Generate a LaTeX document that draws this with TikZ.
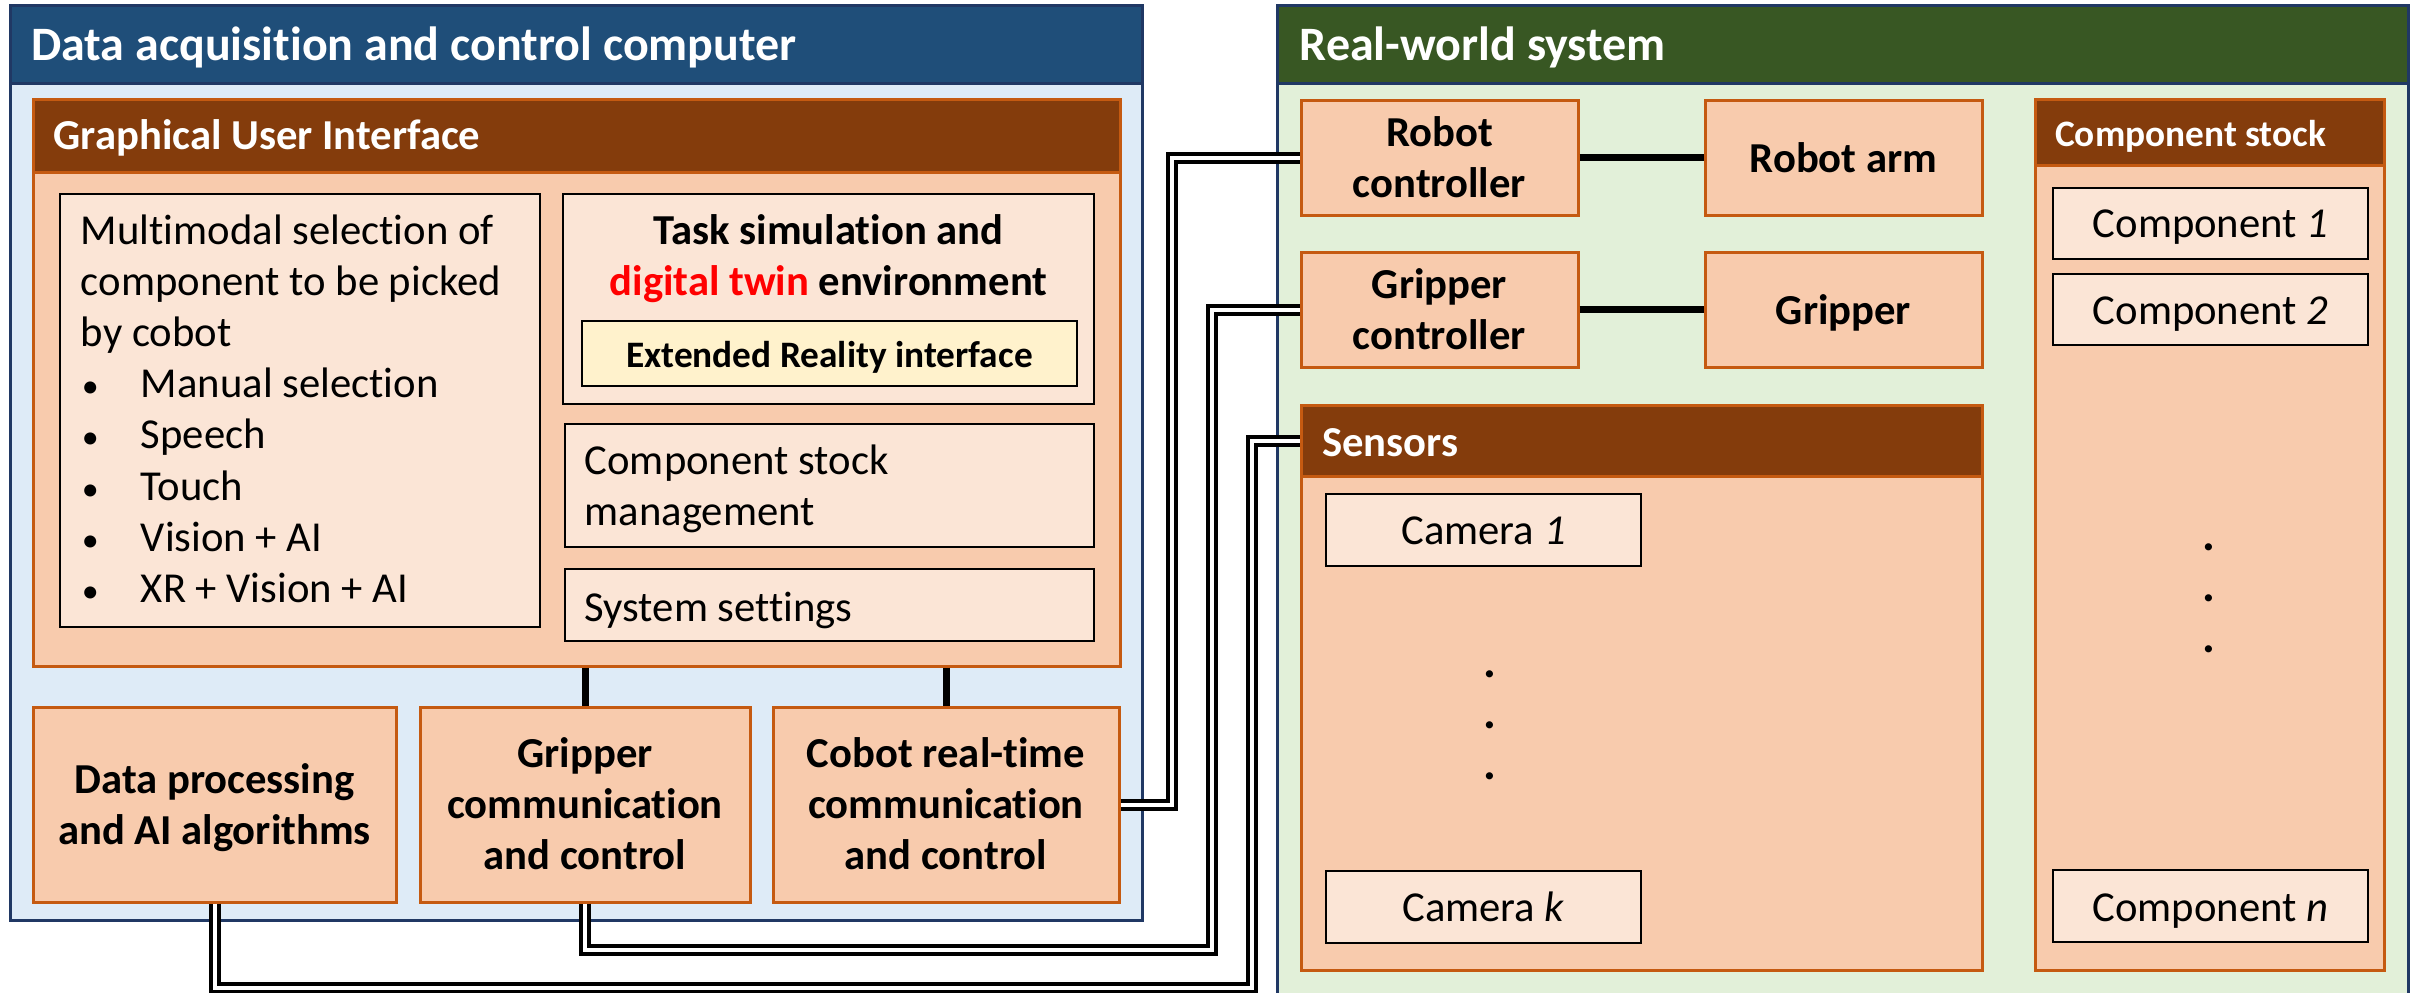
\documentclass[tikz,border=0pt]{standalone}
\usepackage{fontspec}
\setmainfont{Carlito}[Ligatures={NoCommon}]
\usetikzlibrary{fit}
\definecolor{navyline}{HTML}{203864}
\definecolor{titleblue}{HTML}{1F4E79}
\definecolor{paleblue}{HTML}{DEEBF7}
\definecolor{titlegreen}{HTML}{385723}
\definecolor{palegreen}{HTML}{E2F0D9}
\definecolor{brownhead}{HTML}{843C0C}
\definecolor{peach}{HTML}{F8CBAD}
\definecolor{rust}{HTML}{C55A11}
\definecolor{cream}{HTML}{FBE5D6}
\definecolor{butter}{HTML}{FFF2CC}
% stacked lines whose baseline is the first line's baseline
\newcommand\cstack[1]{\vtop{\let\\\cr\halign{\hfil##\hfil\cr#1\crcr}}}
\newcommand\lstack[1]{\vtop{\let\\\cr\halign{##\hfil\cr#1\crcr}}}
\newcommand\bul{\makebox[60pt][l]{\hspace{1pt}{\fontsize{34}{34}\selectfont •}}}
\newcommand\fbody{\fontsize{42.67}{51.2}\selectfont}
\newcommand\fbold{\fontsize{42.67}{51.2}\selectfont\bfseries}
\newcommand\ftitle{\fontsize{48}{56}\selectfont\bfseries}
\newcommand\fsmall{\fontsize{37.33}{44}\selectfont\bfseries}
\newcommand\fdots{\fontsize{48}{51.2}\selectfont\bfseries}
\begin{document}
\begin{tikzpicture}[x=1pt,y=-1pt,
  panel/.style={inner sep=0pt, line width=3pt, draw=navyline},
  obox/.style={inner sep=0pt, line width=3pt, draw=rust, fill=peach},
  headbar/.style={inner sep=0pt, line width=3pt, draw=rust, fill=brownhead},
  wbox/.style={inner sep=0pt, line width=2.5pt, draw=black, fill=cream},
  ttl/.style={inner sep=0pt, anchor=base west, font=\ftitle, text=white},
  htxt/.style={inner sep=0pt, anchor=base west, font=\fbold, text=white},
  ltxt/.style={inner sep=0pt, anchor=base west, font=\fbody},
  ctxt/.style={inner sep=0pt, anchor=base, font=\fbody},
  btxt/.style={inner sep=0pt, anchor=base, font=\fbold},
  dots/.style={inner sep=0pt, anchor=base, font=\fdots},
  link/.style={draw=black, line width=7pt},
  cable/.style={draw=black, line width=4pt, double=white, double distance=4pt, line join=miter}]
\useasboundingbox (0,0) rectangle (2417,993);

% ---------------- data acquisition and control computer ----------------
\node[panel, fill=paleblue, fit={(10,5) (1142,920)}] (daq) {};
\node[panel, fill=titleblue, fit={(10,5) (1142,83)}] (daqbar) {};
\node[ttl] (daqtitle) at (31,60) {Data acquisition and control computer};

\node[obox, fit={(33,99) (1120,666)}] (gui) {};
\node[headbar, fit={(33,99) (1120,172)}] (guibar) {};
\node[htxt] (guititle) at (53.5,149) {Graphical User Interface};

\node[wbox, fit={(60,194) (540,627)}] (multi) {};
\node[ltxt] (multitext) at (80.7,244) {\lstack{Multimodal selection of\\component to be picked\\by cobot\\
  \bul Manual selection\\\bul Speech\\\bul Touch\\\bul Vision + AI\\\bul XR + Vision + AI}};

\node[wbox, fit={(563,194) (1094,404)}] (task) {};
\node[btxt] (tasktext) at (828.5,244) {\cstack{Task simulation and\\\textcolor{red}{digital twin} environment}};
\node[wbox, fill=butter, fit={(582,321) (1077,386)}] (xr) {};
\node[inner sep=0pt, anchor=base, font=\fsmall] (xrtext) at (829.5,367) {Extended Reality interface};

\node[wbox, fit={(565,424) (1094,547)}] (stockmgmt) {};
\node[ltxt] (stockmgmttext) at (584.5,474) {\lstack{Component stock\\management}};
\node[wbox, fit={(565,569) (1094,641)}] (settings) {};
\node[ltxt] (settingstext) at (584.5,621) {System settings};

\node[obox, fit={(33,707) (396,902)}] (dproc) {};
\node[btxt] (dproctext) at (214.5,793) {\cstack{Data processing\\and AI algorithms}};
\node[obox, fit={(420,707) (750,902)}] (gcomm) {};
\node[btxt] (gcommtext) at (585,767) {\cstack{Gripper\\communication\\and control}};
\node[obox, fit={(773,707) (1119,902)}] (cobot) {};
\node[btxt] (cobottext) at (946,767) {\cstack{Cobot real-time\\communication\\and control}};

% ---------------- real-world system ----------------
\node[panel, fill=palegreen, fit={(1277,5) (2408,1000)}] (world) {};
\node[panel, fill=titlegreen, fit={(1277,5) (2408,83)}] (worldbar) {};
\node[ttl] (worldtitle) at (1299.5,60) {Real-world system};

\node[obox, fit={(1301,100) (1578,215)}] (robotctrl) {};
\node[btxt] (robotctrltext) at (1439.5,146) {\cstack{Robot\\controller}};
\node[obox, fit={(1705,100) (1982,215)}] (robotarm) {};
\node[btxt] (robotarmtext) at (1843.5,172) {Robot arm};
\node[obox, fit={(1301,252) (1578,367)}] (gripctrl) {};
\node[btxt] (gripctrltext) at (1439.5,298) {\cstack{Gripper\\controller}};
\node[obox, fit={(1705,252) (1982,367)}] (gripper) {};
\node[btxt] (grippertext) at (1843.5,324) {Gripper};

\node[obox, fit={(1301,405) (1982,970)}] (sensors) {};
\node[headbar, fit={(1301,405) (1982,476)}] (sensorsbar) {};
\node[htxt] (sensorstitle) at (1322,456) {Sensors};
\node[wbox, fit={(1326,494) (1641,566)}] (cam1) {};
\node[ctxt] (cam1text) at (1483.5,544) {Camera \textit{1}};
\node[dots] (camdots) at (1490,677) {\cstack{.\\.\\.}};
\node[wbox, fit={(1326,871) (1641,943)}] (camk) {};
\node[ctxt] (camktext) at (1483.5,921) {Camera \textit{k}};

\node[obox, fit={(2035,99) (2384,970)}] (stock) {};
\node[headbar, fit={(2035,99) (2384,165)}] (stockbar) {};
\node[inner sep=0pt, anchor=base west, font=\fsmall, text=white] (stocktitle) at (2055,146) {Component stock};
\node[wbox, fit={(2053,188) (2368,259)}] (comp1) {};
\node[ctxt] (comp1text) at (2210.5,237) {Component \textit{1}};
\node[wbox, fit={(2053,274) (2368,345)}] (comp2) {};
\node[ctxt] (comp2text) at (2210.5,324) {Component \textit{2}};
\node[dots] (compdots) at (2209,550) {\cstack{.\\.\\.}};
\node[wbox, fit={(2053,870) (2368,942)}] (compn) {};
\node[ctxt] (compntext) at (2210.5,921) {Component \textit{n}};

% ---------------- connections ----------------
\draw[link] (robotctrl.east) -- (robotarm.west);
\draw[link] (gripctrl.east) -- (gripper.west);
\draw[link] (gcomm.north |- gui.south) -- (gcomm.north);
\draw[link] (cobot.north |- gui.south) -- (cobot.north);

\coordinate (railA) at (1172,0);
\coordinate (railB) at (1212,0);
\coordinate (railC) at (1252,0);
\coordinate (lowB) at (0,950);
\coordinate (lowC) at (0,988);
\draw[cable] (cobot.east) -- (cobot.east -| railA) -- (robotctrl.west -| railA) -- (robotctrl.west);
\draw[cable] (gcomm.south) -- (gcomm.south |- lowB) -- (lowB -| railB) -- (gripctrl.west -| railB) -- (gripctrl.west);
\draw[cable] (dproc.south) -- (dproc.south |- lowC) -- (lowC -| railC) -- (sensorsbar.west -| railC) -- (sensorsbar.west);
\end{tikzpicture}
\end{document}
